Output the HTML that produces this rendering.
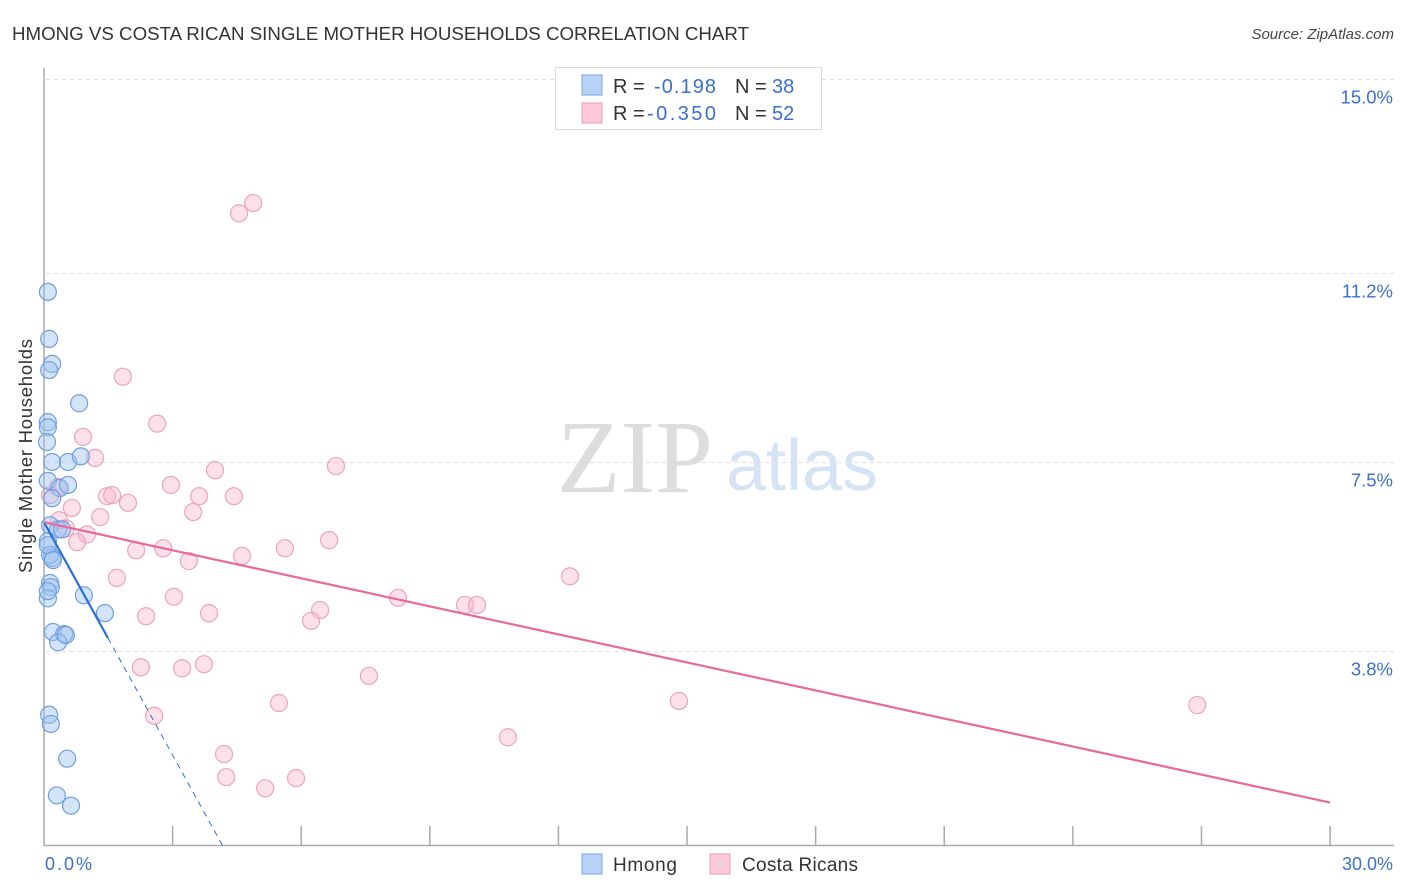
<!DOCTYPE html>
<html><head><meta charset="utf-8"><style>
body{margin:0;background:#fff;font-family:"Liberation Sans",sans-serif}
svg{display:block}
</style></head><body>
<svg id="chart" width="1406" height="892" font-family="Liberation Sans, sans-serif">
<text x="12" y="40" font-size="18" fill="#333" textLength="737" lengthAdjust="spacingAndGlyphs">HMONG VS COSTA RICAN SINGLE MOTHER HOUSEHOLDS CORRELATION CHART</text>
<text x="1394" y="39" font-size="15" fill="#444" font-style="italic" text-anchor="end">Source: ZipAtlas.com</text>
<g id="grid"></g>
<text x="635" y="492" font-size="104" font-family="Liberation Serif, serif" fill="#ddd" text-anchor="middle">ZIP</text>
<text x="802" y="490" font-size="72" fill="#d5e3f5" text-anchor="middle">atlas</text>
<line x1="44" y1="68" x2="44" y2="846" stroke="#aaa" stroke-width="1.5"/>
<line x1="44" y1="845.5" x2="1394" y2="845.5" stroke="#aaa" stroke-width="1.5"/>
<g id="xticks"></g>
<text x="32" y="456" font-size="18.5" fill="#333" text-anchor="middle" transform="rotate(-90 32 456)" textLength="234">Single Mother Households</text>
<text x="45" y="870" font-size="18" fill="#3a6fd0" textLength="47">0.0%</text>
<text x="1393" y="870" font-size="18" fill="#3a6fd0" text-anchor="end">30.0%</text>
<g id="pts"></g>
<g id="lines"></g>
<g>
<rect x="555.5" y="67.5" width="266" height="62" fill="#fff" stroke="#ddd"/>
<rect x="582" y="75" width="20" height="20" fill="#b8d2f5" stroke="#7aa6e6"/>
<rect x="582" y="103" width="20" height="20" fill="#fccadb" stroke="#ec9ab5"/>
<text y="93" font-size="20"><tspan x="613" fill="#333">R =</tspan><tspan x="654" fill="#3a6fd0" textLength="62">-0.198</tspan><tspan x="735" fill="#333">N =</tspan><tspan x="772" fill="#3a6fd0">38</tspan></text>
<text y="120" font-size="20"><tspan x="613" fill="#333">R =</tspan><tspan x="647" fill="#3a6fd0" textLength="69">-0.350</tspan><tspan x="735" fill="#333">N =</tspan><tspan x="772" fill="#3a6fd0">52</tspan></text>
</g>
<g>
<rect x="582" y="854" width="20" height="20" fill="#b8d2f5" stroke="#7aa6e6"/>
<text x="613" y="871" font-size="19" fill="#333" textLength="64">Hmong</text>
<rect x="710" y="854" width="20" height="20" fill="#fccadb" stroke="#ec9ab5"/>
<text x="742" y="871" font-size="19" fill="#333" textLength="116">Costa Ricans</text>
</g>
</svg>
<script>
const yTicks=[3.8,7.5,11.2,15.0];
const yTickLabels=["3.8%","7.5%","11.2%","15.0%"];
const xTicks=[3,6,9,12,15,18,21,24,27,30];
const hmongX=[0.09,0.12,0.19,0.12,0.82,0.09,0.09,0.07,0.19,0.56,0.86,0.09,0.37,0.56,0.19,0.14,0.33,0.42,0.09,0.19,0.14,0.16,0.09,0.93,1.42,0.21,0.47,0.33,0.51,0.12,0.16,0.54,0.30,0.63,0.14,0.09,0.21,0.09];
const hmongY=[10.84,9.92,9.43,9.31,8.66,8.29,8.19,7.90,7.51,7.51,7.62,7.14,7.00,7.06,6.80,6.27,6.19,6.19,5.96,5.63,5.14,5.06,4.84,4.90,4.55,4.18,4.14,3.98,4.12,2.56,2.38,1.70,0.98,0.78,5.69,5.88,5.59,4.98];
const costaX=[4.55,4.88,1.84,2.64,0.91,1.19,6.81,3.99,2.96,0.33,1.47,1.59,3.62,4.43,1.96,0.65,3.48,1.31,0.35,0.51,1.00,6.65,5.62,0.77,2.15,2.78,4.62,3.38,12.27,1.70,3.03,8.26,9.82,10.10,6.44,6.23,3.85,2.38,2.26,3.22,3.73,7.58,2.57,5.48,14.81,26.90,10.82,4.20,4.25,5.88,5.16,0.14];
const costaY=[12.38,12.58,9.18,8.26,8.00,7.59,7.43,7.35,7.06,7.02,6.84,6.86,6.84,6.84,6.71,6.61,6.53,6.43,6.37,6.21,6.09,5.98,5.82,5.94,5.78,5.82,5.67,5.57,5.27,5.24,4.87,4.85,4.71,4.71,4.61,4.40,4.55,4.49,3.49,3.47,3.55,3.32,2.54,2.79,2.83,2.75,2.12,1.79,1.34,1.32,1.12,6.86];
const hmongTrend=[6.33,-1.52];
const costaTrend=[6.33,-0.183];
const NS="http://www.w3.org/2000/svg";
const X=v=>44+v*42.87, Y=v=>845.5-v*51.07;
function mk(tag,attrs,parent){const e=document.createElementNS(NS,tag);for(const k in attrs)e.setAttribute(k,attrs[k]);parent.appendChild(e);return e;}
const grid=document.getElementById('grid');
yTicks.forEach((t,i)=>{
  const l=mk('line',{x1:46,x2:1394,y1:Y(t),y2:Y(t),stroke:'#ddd','stroke-dasharray':'4,4'},grid);
  
  
  const tx=mk('text',{x:1393,y:Y(t)+24,'font-size':18.5,fill:'#3a6fd0','text-anchor':'end'},grid);
  tx.textContent=yTickLabels[i];
  
  
});
const xt=document.getElementById('xticks');
xTicks.forEach(t=>{
  const l=mk('line',{x1:X(t),x2:X(t),y1:826,y2:845,stroke:'#aaa','stroke-width':1.5},xt);
  
  
});
const pts=document.getElementById('pts');
costaX.forEach((v,i)=>{
  const c=mk('circle',{cx:X(v),cy:Y(costaY[i]),r:8.5,fill:'rgba(248,180,204,0.4)',stroke:'#eda3bd','stroke-width':1.2},pts);
  
  
});
hmongX.forEach((v,i)=>{
  const c=mk('circle',{cx:X(v),cy:Y(hmongY[i]),r:8.5,fill:'rgba(160,196,240,0.45)',stroke:'#6f9fe0','stroke-width':1.2},pts);
  
  
});
const lines=document.getElementById('lines');
const hEnd=1.49, hZero=-hmongTrend[0]/hmongTrend[1];
let l1=mk('line',{x1:X(0),y1:Y(hmongTrend[0]),x2:X(hEnd),y2:Y(hmongTrend[0]+hmongTrend[1]*hEnd),stroke:'#2b6fd6','stroke-width':2.2},lines);


let l2=mk('line',{x1:X(hEnd),y1:Y(hmongTrend[0]+hmongTrend[1]*hEnd),x2:X(hZero),y2:Y(0),stroke:'#2b6fd6','stroke-width':1,'stroke-dasharray':'6,5'},lines);


let l3=mk('line',{x1:X(0),y1:Y(costaTrend[0]),x2:X(30),y2:Y(costaTrend[0]+costaTrend[1]*30),stroke:'#e8699a','stroke-width':2.2},lines);


</script>
</body></html>
